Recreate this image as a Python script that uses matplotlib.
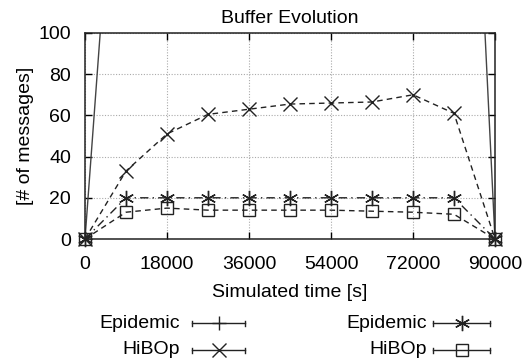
import matplotlib
matplotlib.use("Agg")
import matplotlib.pyplot as plt
from matplotlib.lines import Line2D

plt.rcParams["font.family"] = ["Liberation Sans", "DejaVu Sans"]

# sample times [s]
time_s = [0, 9000, 18000, 27000, 36000, 45000, 54000, 63000, 72000, 81000, 90000]

# buffer occupancy [# of messages]
epidemic_a = [0, 270, 300, 320, 340, 360, 370, 380, 390, 410, 0]   # off-scale, only the steep ends show
hibop_a = [0, 33, 51, 60.5, 63, 65.5, 66, 66.5, 70, 61, 0]
epidemic_b = [0, 20, 20, 20, 20, 20, 20, 20, 20, 20, 0]
hibop_b = [0, 13, 15, 14, 14, 14, 14, 13.5, 13, 12, 0]

x_ticks = [0, 18000, 36000, 54000, 72000, 90000]
y_ticks = [0, 20, 40, 60, 80, 100]

ink = "#222222"
fs = 14

fig = plt.figure(figsize=(5.29, 3.64), dpi=100)
ax = fig.add_axes([0.1607, 0.3434, 0.775, 0.566])

ax.plot(time_s, epidemic_a, color="#444444", lw=1.0, ls="-", marker="+", ms=10, mew=1.0, clip_on=True)
ax.plot(time_s, hibop_a, color=ink, lw=1.0, ls=(0, (4, 3)), marker="x", ms=10, mew=1.0, clip_on=False)
ax.plot(time_s, epidemic_b, color=ink, lw=1.0, ls=(0, (6, 3, 1, 3)), marker=(6, 2, 0), ms=11, mew=1.0, clip_on=False)
ax.plot(time_s, hibop_b, color=ink, lw=1.0, ls=(0, (4, 3)), marker="s", ms=9, mew=1.0, mfc="none", clip_on=False)

ax.set_xlim(0, 90000)
ax.set_ylim(0, 100)
ax.set_xticks(x_ticks)
ax.set_yticks(y_ticks)
ax.tick_params(direction="in", length=5, width=1, labelsize=fs, top=True, right=True)
ax.tick_params(axis="x", pad=12)
ax.tick_params(axis="y", pad=10)
ax.grid(True, color="#aaaaaa", ls=(0, (1, 1.5)), lw=0.8)
for sp in ax.spines.values():
    sp.set_linewidth(1.1)
    sp.set_color(ink)

ax.set_title("Buffer Evolution", fontsize=fs, pad=7)
ax.set_xlabel("Simulated time [s]", fontsize=fs, labelpad=8)
ax.set_ylabel("[# of messages]", fontsize=fs, labelpad=3)

# key below the plot, gnuplot style: label then sample line with end caps
lax = fig.add_axes([0, 0, 1, 1])
lax.set_xlim(0, 529)
lax.set_ylim(364, 0)
lax.axis("off")

key = [
    ("Epidemic", "+", "none", 10, 180, 192, 245, 323),
    ("HiBOp", "x", "none", 10, 180, 192, 245, 350),
    ("Epidemic", (6, 2, 0), "none", 11, 427, 433, 490, 323),
    ("HiBOp", "s", "none", 9, 427, 433, 490, 350),
]
for label, mk, mfc, ms, tx, x0, x1, y in key:
    lax.text(tx, y, label, ha="right", va="center", fontsize=fs)
    lax.add_line(Line2D([x0, x1], [y, y], color=ink, lw=1.0))
    lax.add_line(Line2D([x0, x0], [y - 2.5, y + 2.5], color=ink, lw=1.0))
    lax.add_line(Line2D([x1, x1], [y - 2.5, y + 2.5], color=ink, lw=1.0))
    lax.add_line(Line2D([(x0 + x1) / 2], [y], color=ink, marker=mk, ms=ms, mew=1.0, mfc=mfc, ls="none"))

fig.savefig("out.png", dpi=100)
